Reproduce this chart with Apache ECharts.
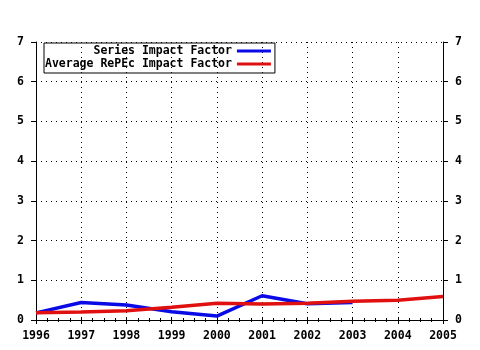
<!DOCTYPE html>
<html>
<head>
<meta charset="utf-8">
<script src="https://cdn.jsdelivr.net/npm/echarts@6/dist/echarts.min.js"></script>
<style>
  html, body { margin: 0; padding: 0; background: #fff; }
  #chart { width: 480px; height: 350px; }
</style>
</head>
<body>
<div id="chart"></div>
<script>
// Annual impact factors
const years = [1996, 1997, 1998, 1999, 2000, 2001, 2002, 2003, 2004, 2005];
const seriesImpact = [0.18, 0.44, 0.38, 0.21, 0.10, 0.61, 0.41, 0.44];
const repecImpact = [0.18, 0.20, 0.23, 0.32, 0.42, 0.40, 0.42, 0.47, 0.50, 0.59];
const yTicks = [0, 1, 2, 3, 4, 5, 6, 7];

const FONT = 'DejaVu Sans Mono';
const pairs = (vals) => vals.map((v, i) => [years[i], v]);

const labelStyle = { fontFamily: FONT, fontWeight: 'bold', fontSize: 11.5, color: '#000' };
const axisLine = { show: true, lineStyle: { color: '#000', width: 1 } };
const dotted = { show: true, lineStyle: { color: '#000', type: [1, 4], width: 1 } };

const xBase = {
  type: 'value',
  min: years[0],
  max: years[years.length - 1],
  interval: 1,
  axisLine: axisLine,
  minorTick: { show: true, splitNumber: 4, length: 2, lineStyle: { color: '#000' } },
  splitLine: { show: false }
};
const yBase = {
  type: 'value',
  min: yTicks[0],
  max: yTicks[yTicks.length - 1],
  interval: 1,
  axisLine: axisLine,
  axisTick: { show: true, length: 5, lineStyle: { color: '#000' } },
  splitLine: { show: false }
};

const chart = echarts.init(document.getElementById('chart'), null, { renderer: 'canvas' });
chart.setOption({
  backgroundColor: '#fff',
  animation: false,
  grid: { left: 36, right: 37, top: 42, bottom: 30 },
  legend: {
    left: 44, top: 43,
    orient: 'vertical',
    align: 'right',
    itemWidth: 34, itemHeight: 3, itemGap: 1,
    padding: [2, 4, 3, 1],
    borderColor: '#000', borderWidth: 1,
    icon: 'rect',
    textStyle: { fontFamily: FONT, fontWeight: 'bold', fontSize: 11.5, color: '#000' },
    formatter: (name) => name.padStart(27, ' '),
    data: ['Series Impact Factor', 'Average RePEc Impact Factor']
  },
  xAxis: [
    Object.assign({}, xBase, {
      position: 'bottom',
      axisTick: { show: true, length: 4, lineStyle: { color: '#000' } },
      axisLabel: Object.assign({}, labelStyle, { margin: 10, formatter: (v) => String(v) }),
      splitLine: dotted
    }),
    Object.assign({}, xBase, {
      position: 'top',
      axisTick: { show: true, length: 3, lineStyle: { color: '#000' } },
      axisLabel: { show: false }
    })
  ],
  yAxis: [
    Object.assign({}, yBase, {
      position: 'left',
      axisLabel: Object.assign({}, labelStyle, { margin: 12 }),
      splitLine: dotted
    }),
    Object.assign({}, yBase, {
      position: 'right',
      axisLabel: Object.assign({}, labelStyle, { margin: 12 })
    })
  ],
  series: [
    {
      name: 'Series Impact Factor',
      type: 'line',
      data: pairs(seriesImpact),
      symbol: 'none',
      color: '#0a0ae6',
      lineStyle: { width: 3.5, color: '#0a0ae6' },
      z: 3
    },
    {
      name: 'Average RePEc Impact Factor',
      type: 'line',
      data: pairs(repecImpact),
      symbol: 'none',
      color: '#e01010',
      lineStyle: { width: 3.5, color: '#e01010' },
      z: 4
    }
  ]
});
</script>
</body>
</html>
